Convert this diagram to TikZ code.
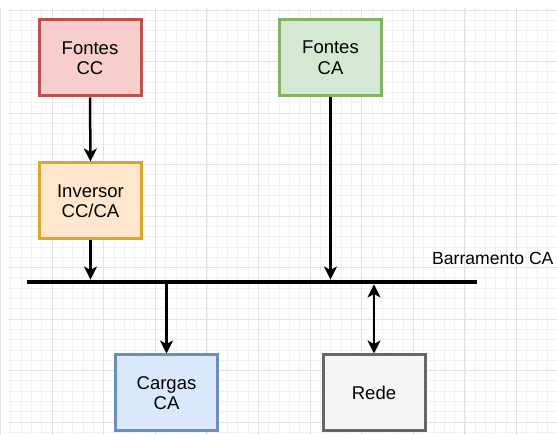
\documentclass[tikz,border=0pt]{standalone}
\usepackage{fontspec}
\setmainfont{Liberation Sans}
\usetikzlibrary{arrows.meta}
\definecolor{ccfill}{HTML}{F8CECC}\definecolor{ccdraw}{HTML}{B85450}
\definecolor{invfill}{HTML}{FFE6CC}\definecolor{invdraw}{HTML}{D9A62E}
\definecolor{cafill}{HTML}{D5E8D4}\definecolor{cadraw}{HTML}{82B366}
\definecolor{cgfill}{HTML}{DAE8FC}\definecolor{cgdraw}{HTML}{6C8EBF}
\definecolor{rdfill}{HTML}{F5F5F5}\definecolor{rddraw}{HTML}{666666}
\definecolor{gridminor}{HTML}{F1F1F1}\definecolor{gridmajor}{HTML}{E2E2E2}
\tikzset{
  blk/.style={rectangle, line width=3pt, minimum width=102pt, minimum height=76pt, inner sep=0pt, align=center, font=\fontsize{18.5}{20.5}\selectfont},
  tip/.tip={Stealth[length=13pt,width=13pt,inset=3.5pt]},
  conn/.style={line width=2.5pt, -tip},
  conn2/.style={line width=2.5pt, tip-tip},
}
\begin{document}
\begin{tikzpicture}[x=1pt,y=-1pt]
\useasboundingbox (0,0) rectangle (557,435);
\fill[white] (0,0) rectangle (557,435);
% grid
\foreach \i in {0,...,53} {
  \draw[gridminor, line width=0.6pt] (10.72+\i*10.32,8) -- (10.72+\i*10.32,435);
}
\foreach \i in {0,...,41} {
  \draw[gridminor, line width=0.6pt] (8,10+\i*10.3) -- (557,10+\i*10.3);
}
\foreach \i in {0,...,10} {
  \draw[gridmajor, line width=0.8pt] (0.4+\i*51.6,8) -- (0.4+\i*51.6,435);
}
\foreach \i in {0,...,8} {
  \draw[gridmajor, line width=0.8pt] (8,10+\i*51.5) -- (557,10+\i*51.5);
}
% blocks
\node[blk, fill=ccfill, draw=ccdraw] (fcc) at (90,58) {Fontes\\CC};
\node[blk, fill=invfill, draw=invdraw] (inv) at (90.5,201) {Inversor\\CC/CA};
\node[blk, fill=cafill, draw=cadraw] (fca) at (330.5,57.5) {Fontes\\CA};
\node[blk, fill=cgfill, draw=cgdraw] (car) at (166.5,393) {Cargas\\CA};
\node[blk, fill=rdfill, draw=rddraw] (rede) at (374,393) {Rede};
% bus
\node[rectangle, fill=black, minimum width=450pt, minimum height=4.5pt, inner sep=0pt] (bus) at (252,282) {};
\node[anchor=base west, font=\fontsize{17.6}{20}\selectfont, inner sep=0pt] (buslbl) at (432,265) {Barramento CA};
% connectors
\draw[conn] (fcc.south) -- (inv.north);
\draw[conn] (inv.south) -- (inv.south |- bus.north);
\draw[conn] (fca.south) -- (fca.south |- bus.north);
\draw[conn] (car.north |- bus.south) -- (car.north);
\draw[conn2] (rede.north |- bus.south) -- (rede.north);
\end{tikzpicture}
\end{document}
